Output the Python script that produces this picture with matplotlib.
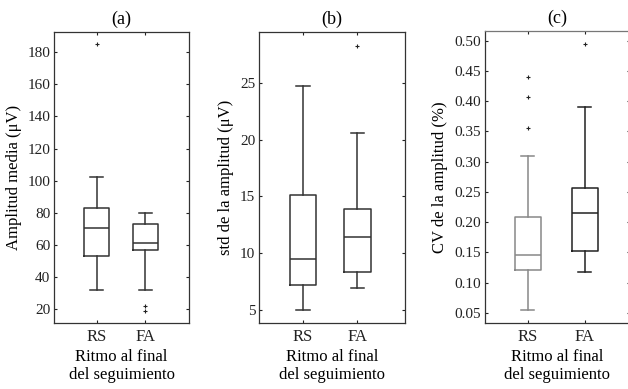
import matplotlib
matplotlib.use("Agg")
import matplotlib.pyplot as plt

plt.rcParams['font.family'] = ['Liberation Serif', 'DejaVu Serif']
plt.rcParams['font.size'] = 11

groups = ['RS', 'FA']

# (a) amplitud media (uV): whislo, q1, med, q3, whishi, outliers
amp_rs = [32, 53, 70.5, 83, 102, [185]]
amp_fa = [32, 57, 61, 73, 80, [19, 22]]

# (b) std de la amplitud (uV)
std_rs = [5.0, 7.2, 9.5, 15.1, 24.7, []]
std_fa = [6.9, 8.3, 11.4, 13.9, 20.6, [28.3]]

# (c) CV de la amplitud
cv_rs = [0.055, 0.120, 0.145, 0.208, 0.310, [0.355, 0.407, 0.440]]
cv_fa = [0.118, 0.152, 0.215, 0.257, 0.390, [0.495]]


def stats(v, label):
    return dict(whislo=v[0], q1=v[1], med=v[2], q3=v[3], whishi=v[4],
                fliers=v[5], label=label)


def panel(ax, rs, fa, colors, ylim, xlim, yticks, ytl, ylabel, title, bw):
    for i, (v, c) in enumerate(zip([rs, fa], colors)):
        lp = dict(color=c, linewidth=1.1)
        ax.bxp([stats(v, groups[i])], positions=[i + 1], widths=bw,
               boxprops=lp, whiskerprops=lp, capprops=lp, medianprops=lp,
               capwidths=bw / 2,
               flierprops=dict(marker='+', markersize=3, markeredgecolor='#222222',
                               markeredgewidth=0.8, linestyle='none'))
    ax.set_xlim(*xlim)
    ax.set_ylim(*ylim)
    ax.set_xticks([1, 2])
    ax.set_xticklabels(groups)
    ax.set_yticks(yticks)
    ax.set_yticklabels(ytl)
    ax.tick_params(direction='in', top=True, right=True, length=2.5, width=0.8,
                   labelsize=11, colors='#222222', pad=3)
    ax.tick_params(axis='x', pad=4, labelsize=12)
    for s in ax.spines.values():
        s.set_color('#333333')
        s.set_linewidth(0.9)
    ax.set_ylabel(ylabel, fontsize=12, labelpad=4)
    ax.set_xlabel('Ritmo al final\ndel seguimiento', fontsize=12, labelpad=3,
                  linespacing=1.15)
    ax.set_title(title, fontsize=13, pad=6)


fig = plt.figure(figsize=(6.28, 3.89), dpi=100)
ax1 = fig.add_axes([0.0865, 0.1697, 0.214, 0.748])
ax2 = fig.add_axes([0.413, 0.1697, 0.232, 0.748])
ax3 = fig.add_axes([0.772, 0.1697, 0.231, 0.751])

panel(ax1, amp_rs, amp_fa, ['#333333', '#333333'], (11.3, 192.6), (0.13, 2.89),
      range(20, 181, 20), [str(t) for t in range(20, 181, 20)],
      'Amplitud media (μV)', '(a)', 0.51)
panel(ax2, std_rs, std_fa, ['#333333', '#333333'], (3.83, 29.5), (0.2, 2.88),
      [5, 10, 15, 20, 25], ['5', '10', '15', '20', '25'],
      'std de la amplitud (μV)', '(b)', 0.49)
cv_ticks = [0.05 * k for k in range(1, 11)]
panel(ax3, cv_rs, cv_fa, ['#888888', '#222222'], (0.033, 0.5166), (0.25, 2.79),
      cv_ticks, ['%.2f' % t for t in cv_ticks],
      'CV de la amplitud (%)', '(c)', 0.46)
ax3.spines['top'].set_color('#777777')

fig.savefig('out.png', dpi=100)
